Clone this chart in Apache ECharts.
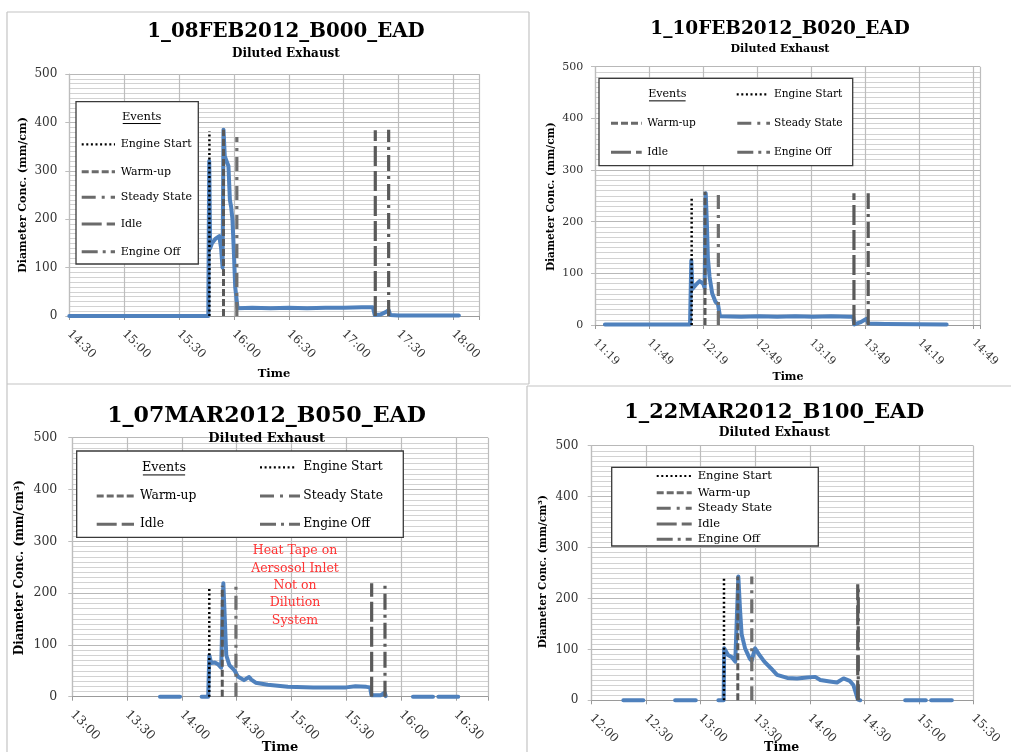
<!DOCTYPE html>
<html>
<head>
<meta charset="utf-8">
<script src="https://cdn.jsdelivr.net/npm/echarts@6/dist/echarts.min.js"></script>
<style>html,body{margin:0;padding:0;background:#fff}#c{width:1011px;height:752px}</style>
</head>
<body>
<div id="c"></div>
<script>
// ---------------- DATA (times in minutes after midnight) ----------------
const eventNames = ['Engine Start', 'Warm-up', 'Steady State', 'Idle', 'Engine Off'];
const yTicks = [0, 100, 200, 300, 400, 500];

const p1Title = '1_08FEB2012_B000_EAD';
const p1Time  = [870, 946.0, 946.5, 947.0, 948, 950, 952, 953, 953.8, 954.3, 955, 956, 957, 957.8, 958.5, 959.2, 960, 960.7, 961.3, 962, 970, 980, 990, 1000, 1010, 1020, 1030, 1036, 1037, 1040, 1043, 1044.6, 1045.5, 1050, 1083];
const p1Value = [0, 0, 320, 140, 150, 160, 165, 140, 100, 385, 330, 320, 310, 240, 225, 200, 130, 60, 40, 16, 17, 16, 17, 16, 17, 17, 18, 18, 2, 3, 8, 12, 2, 1, 1];
const p1EventTime = [946.6, 954.3, 961.6, 1037.3, 1044.6];
const p1EventTop  = [381, 385, 370, 384, 385];

const p2Title = '1_10FEB2012_B020_EAD';
const p2Time  = [684.5, 731.7, 732.4, 733, 735, 737, 739, 739.8, 740.4, 741, 741.6, 742.5, 744, 745.8, 747.2, 748.3, 760, 770, 780, 790, 800, 810, 820, 822.2, 822.8, 826, 829.6, 830.5, 840, 874];
const p2Value = [1, 1, 125, 70, 78, 85, 80, 72, 255, 200, 130, 94, 61, 45, 40, 17, 16, 17, 16, 17, 16, 17, 16, 16, 1, 5, 12, 3, 2, 1];
const p2EventTime = [732.6, 740.0, 747.4, 822.6, 830.5];
const p2EventTop  = [248, 258, 255, 255, 255];

const p3Title = '1_07MAR2012_B050_EAD';
const p3Time  = [828, 839, 845, 850.8, 854.4, 855, 856, 858, 860, 861.5, 862.7, 863.5, 864.3, 866, 868.8, 870.6, 874, 876.8, 878, 880.4, 887, 898, 912, 930, 935, 941, 943, 943.8, 949, 951, 951.6, 960, 966.5, 977.5, 979, 980.4, 991.3];
const p3Value = [0, 0, null, 0, 0, 80, 65, 66, 62, 56, 219, 150, 80, 61, 51, 39, 32, 38, 33, 27, 23, 19, 18, 18, 20, 19, 18, 3, 3, 8, 1, null, 0, 0, null, 0, 0];
const p3EventTime = [855.0, 862.1, 869.6, 943.9, 951.2];
const p3EventTop  = [212, 214, 219, 219, 219];
const p3Note = ['Heat Tape on', 'Aersosol Inlet', 'Not on', 'Dilution', 'System'];

const p4Title = '1_22MAR2012_B100_EAD';
const p4Time  = [737.4, 748.4, 757, 765.9, 777.3, 783, 789.7, 792.6, 792.9, 795, 797, 799, 800.7, 801.6, 802.5, 804.4, 807, 808, 809.9, 811.7, 815, 818.6, 822, 827.6, 833, 838.5, 843, 845.8, 851, 855, 858.6, 862, 864, 866.4, 867.8, 880, 892.5, 903.9, 905, 906.8, 918.2];
const p4Value = [0, 0, null, 0, 0, null, 0, 0, 102, 89, 85, 76, 243, 180, 130, 102, 82, 78, 102, 92, 76, 63, 50, 44, 43, 45, 46, 40, 37, 35, 43, 38, 30, 2, 0, null, 0, 0, null, 0, 0];
const p4EventTime = [792.8, 800.4, 808.1, 866.4, 866.7];
const p4EventTop  = [240, 243, 243, 228, 228];

// ---------------- STYLE / LAYOUT ----------------
const FONT = '"DejaVu Serif", serif';
const BLUE = '#4f81bd';
const eventStyles = [
  {color: '#000000', width: 2.5, dash: [2, 2.6]},
  {color: '#595959', width: 3, dash: [7, 3]},
  {color: '#6e6e6e', width: 3.2, dash: [14, 6, 3, 6]},
  {color: '#5a5a5a', width: 3.2, dash: [20, 5]},
  {color: '#5a5a5a', width: 3.2, dash: [16, 5, 3, 5]}
];

const panels = [
  {title: p1Title, time: p1Time, value: p1Value, evT: p1EventTime, evH: p1EventTop,
   grid: {left: 69.3, top: 74, width: 409.7, height: 242}, xmin: 870, xmax: 1094,
   tick: 12, yMargin: 12, yName: 'Diameter Conc. (mm/cm)',
   titlePos: [286, 31.5, 19.8], subPos: [286, 54, 12], yNamePos: [23, 195, 11], timePos: [274, 374, 11.5],
   legend: {box: [76, 101.7, 122.3, 162.3], font: 11, events: [141.7, 116.7],
     items: [[81.7, 115, 120.7, 144.3], [81.7, 115, 120.7, 171.7], [81.7, 115, 120.7, 197.3], [81.7, 115, 120.7, 224], [81.7, 115, 120.7, 251.7]]}},
  {title: p2Title, time: p2Time, value: p2Value, evT: p2EventTime, evH: p2EventTop,
   grid: {left: 595, top: 66.7, width: 385, height: 258.3}, xmin: 679, xmax: 892.5,
   tick: 11, yMargin: 11.7, yName: 'Diameter Conc. (mm/cm)',
   titlePos: [780, 29, 18.5], subPos: [780, 49.5, 11], yNamePos: [551.7, 196.7, 10.5], timePos: [788, 377, 11],
   legend: {box: [599, 78.3, 253.7, 87.4], font: 10.6, events: [667.3, 94.3],
     items: [[736.7, 768.3, 774, 94.3], [611, 641.7, 647.3, 123.3], [737.3, 770, 774, 123.3], [611, 641.7, 647.3, 152.3], [737.3, 770, 774, 152.3]]}},
  {title: p3Title, time: p3Time, value: p3Value, evT: p3EventTime, evH: p3EventTop,
   grid: {left: 72.3, top: 437.7, width: 415.7, height: 259}, xmin: 780, xmax: 1007.6,
   tick: 12.5, yMargin: 15, yName: 'Diameter Conc. (mm/cm\u00B3)',
   titlePos: [266.5, 415.8, 22.1], subPos: [266.7, 439, 13], yNamePos: [20, 567.7, 12], timePos: [280, 748, 13],
   legend: {box: [76.7, 451, 326.6, 86.3], font: 12.3, events: [164, 467.3],
     items: [[260, 296.7, 303.3, 467.3], [96.7, 134, 140, 496], [260, 300, 303.3, 496], [96.7, 134, 140, 524.3], [260, 300, 303.3, 524.3]]}},
  {title: p4Title, time: p4Time, value: p4Value, evT: p4EventTime, evH: p4EventTop,
   grid: {left: 591.7, top: 445.7, width: 381.6, height: 254.6}, xmin: 720, xmax: 930,
   tick: 12, yMargin: 13.4, yName: 'Diameter Conc. (mm/cm\u00B3)',
   titlePos: [774.3, 412.7, 20.8], subPos: [774.3, 432.5, 12.4], yNamePos: [543.3, 571.7, 10.5], timePos: [781.7, 748, 12.5],
   legend: {box: [611.7, 467.3, 206.6, 78.7], font: 11.5, events: null,
     items: [[656.7, 691.7, 697.7, 476], [656.7, 691.7, 697.7, 492.7], [656.7, 691.7, 697.7, 508.3], [656.7, 691.7, 697.7, 524], [656.7, 691.7, 697.7, 539.3]]}}
];

function fmt(v) {
  const h = Math.floor(v / 60 + 1e-9);
  const m = Math.round(v - h * 60);
  return h + ':' + (m < 10 ? '0' : '') + m;
}

const grids = [], xAxes = [], yAxes = [], series = [], graphics = [];

// panel frames
const frameColor = '#c4c4c4';
[[7, 12, 529, 12], [7, 12, 7, 752], [529, 12, 529, 384], [7, 384, 529, 384], [527, 386, 527, 752], [527, 386, 1011, 386]].forEach(l => {
  graphics.push({type: 'line', shape: {x1: l[0], y1: l[1], x2: l[2], y2: l[3]}, style: {stroke: frameColor, lineWidth: 1.2}, z: 1});
});

panels.forEach((p, i) => {
  grids.push(Object.assign({containLabel: false}, p.grid));
  const xmin = p.xmin;
  xAxes.push({
    type: 'value', gridIndex: i, min: p.xmin, max: p.xmax, interval: 30,
    axisLine: {show: true, onZero: false, lineStyle: {color: '#9a9a9a', width: 1}},
    axisTick: {show: true, length: 4, lineStyle: {color: '#9a9a9a'}},
    axisLabel: {
      rotate: -45, margin: 16, fontFamily: FONT, fontSize: p.tick, color: '#333',
      formatter: v => {
        const r = ((v - xmin) % 30 + 30) % 30;
        return (r < 1e-6 || 30 - r < 1e-6) ? fmt(v) : '';
      }
    },
    splitLine: {show: true, lineStyle: {color: '#bdbdbd', width: 1.2}}
  });
  yAxes.push({
    type: 'value', gridIndex: i, min: yTicks[0], max: yTicks[yTicks.length - 1], interval: 100,
    axisLine: {show: true, lineStyle: {color: '#bdbdbd', width: 1.2}},
    axisTick: {show: true, length: 4, lineStyle: {color: '#bdbdbd'}},
    axisLabel: {margin: p.yMargin, fontFamily: FONT, fontSize: p.tick, color: '#333'},
    splitLine: {show: true, lineStyle: {color: '#b8b8b8', width: 1.2}},
    minorTick: {show: false, splitNumber: 10},
    minorSplitLine: {show: true, lineStyle: {color: '#d2d2d2', width: 1}}
  });
  series.push({
    type: 'line', name: 'Diameter Conc.', xAxisIndex: i, yAxisIndex: i,
    data: p.time.map((t, k) => [t, p.value[k]]),
    showSymbol: false, symbol: 'none', connectNulls: false, clip: false,
    lineStyle: {color: BLUE, width: 4, join: 'round', cap: 'round'}, z: 3
  });
  p.evT.forEach((t, j) => {
    const s = eventStyles[j];
    series.push({
      type: 'line', name: eventNames[j], xAxisIndex: i, yAxisIndex: i,
      data: [[t, 0], [t, p.evH[j]]], symbol: 'none', clip: false,
      lineStyle: {color: s.color, width: s.width, type: s.dash}, z: 4
    });
  });

  // titles
  graphics.push({type: 'text', x: p.titlePos[0], y: p.titlePos[1], z: 20,
    style: {text: p.title, fontFamily: FONT, fontWeight: 'bold', fontSize: p.titlePos[2], fill: '#000', align: 'center', verticalAlign: 'middle'}});
  graphics.push({type: 'text', x: p.subPos[0], y: p.subPos[1], z: 20,
    style: {text: 'Diluted Exhaust', fontFamily: FONT, fontWeight: 'bold', fontSize: p.subPos[2], fill: '#000', align: 'center', verticalAlign: 'middle'}});
  graphics.push({type: 'text', x: p.yNamePos[0], y: p.yNamePos[1], rotation: Math.PI / 2, z: 20,
    style: {text: p.yName, fontFamily: FONT, fontWeight: 'bold', fontSize: p.yNamePos[2], fill: '#000', align: 'center', verticalAlign: 'middle'}});
  graphics.push({type: 'text', x: p.timePos[0], y: p.timePos[1], z: 20,
    style: {text: 'Time', fontFamily: FONT, fontWeight: 'bold', fontSize: p.timePos[2], fill: '#000', align: 'center', verticalAlign: 'middle'}});

  // legend box
  const L = p.legend;
  graphics.push({type: 'rect', shape: {x: L.box[0], y: L.box[1], width: L.box[2], height: L.box[3]}, z: 10,
    style: {fill: '#fff', stroke: '#3a3a3a', lineWidth: 1.3}});
  if (L.events) {
    graphics.push({type: 'text', x: L.events[0], y: L.events[1], z: 11,
      style: {text: 'Events', fontFamily: FONT, fontSize: L.font + 0.5, fill: '#000', align: 'center', verticalAlign: 'middle'}});
    const w = (L.font + 0.5) * 3.3;
    graphics.push({type: 'line', z: 11, shape: {x1: L.events[0] - w / 2, y1: L.events[1] + L.font * 0.62, x2: L.events[0] + w / 2, y2: L.events[1] + L.font * 0.62},
      style: {stroke: '#000', lineWidth: 1}});
  }
  L.items.forEach((it, j) => {
    const s = eventStyles[j];
    graphics.push({type: 'line', z: 11, shape: {x1: it[0], y1: it[3], x2: it[1], y2: it[3]},
      style: {stroke: j === 0 ? '#000' : '#6a6a6a', lineWidth: j === 0 ? 2.2 : 3, lineDash: s.dash}});
    graphics.push({type: 'text', x: it[2], y: it[3], z: 11,
      style: {text: eventNames[j], fontFamily: FONT, fontSize: L.font, fill: '#000', align: 'left', verticalAlign: 'middle'}});
  });
});

// red annotation (panel 3)
const noteY = [551, 568.3, 585.7, 603, 620.3];
p3Note.forEach((t, k) => {
  graphics.push({type: 'text', x: 295, y: noteY[k], z: 20,
    style: {text: t, fontFamily: FONT, fontSize: 12.5, fill: '#ff3333', align: 'center', verticalAlign: 'middle'}});
});

const chart = echarts.init(document.getElementById('c'), null, {renderer: 'canvas'});
chart.setOption({
  backgroundColor: '#ffffff',
  animation: false,
  grid: grids,
  xAxis: xAxes,
  yAxis: yAxes,
  series: series,
  graphic: graphics
});
</script>
</body>
</html>
